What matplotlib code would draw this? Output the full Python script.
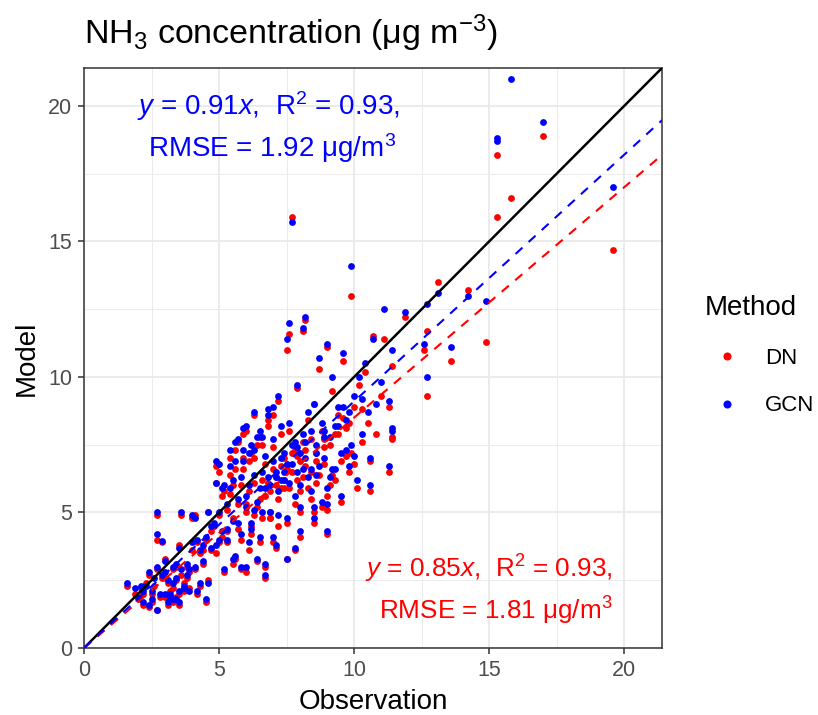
import matplotlib
matplotlib.use("Agg")
import matplotlib.pyplot as plt
import numpy as np
from matplotlib.lines import Line2D

# ---------------- data ----------------
obs = [1.6, 1.9, 2.0, 2.2, 2.3, 2.4, 2.5, 2.6, 2.7, 2.7, 2.7, 2.7, 2.9, 3.0, 3.0, 3.1,
       3.2, 3.2, 3.3, 3.3, 3.4, 3.4, 3.5, 3.5, 3.6, 3.7, 3.8, 3.9, 4.0, 4.0, 4.1, 4.2,
       4.3, 4.4, 4.5, 4.5, 4.6, 4.7, 4.8, 4.9, 5.0, 5.0, 4.6, 4.9, 4.9, 2.9, 3.6, 4.1,
       5.0, 5.1, 5.2, 5.3, 5.4, 5.5, 5.5, 5.6, 5.7, 5.7, 5.8, 5.8, 5.9, 6.0, 6.0, 6.1,
       6.2, 6.2, 6.3, 6.3, 6.4, 6.5, 6.5, 6.6, 6.7, 6.7, 6.8, 6.9, 7.0, 7.0, 7.1, 7.2,
       7.2, 7.3, 7.4, 7.5, 7.5, 7.6, 7.6, 7.7, 7.7, 7.8, 7.9, 8.0, 8.0, 8.1, 8.1, 8.2,
       8.3, 8.3, 8.4, 8.5, 8.5, 8.6, 8.7, 8.8, 8.8, 8.9, 9.0, 9.0, 9.1, 9.2, 9.3, 9.4,
       9.5, 9.6, 9.7, 9.8, 9.9, 10.0, 10.1, 10.2, 10.3, 10.4, 10.5, 10.6, 10.6, 10.7, 10.8, 11.0,
       11.1, 11.3, 11.3, 11.4, 11.4, 11.4, 11.9, 12.6, 12.7, 12.7, 13.1, 13.6, 14.2, 14.9, 15.3, 15.8,
       17.0, 19.6, 15.3, 5.3, 5.6, 5.9, 6.1, 6.4, 6.6, 6.8, 7.1, 7.3, 7.5, 7.8, 8.0, 8.2,
       8.4, 8.6, 8.9, 9.1, 9.4, 9.6, 9.9, 10.0, 6.0, 6.3, 6.7, 7.0, 7.4, 7.7, 5.4, 5.8,
       6.2, 6.9, 7.2, 7.9, 8.5, 9.0, 9.3, 9.8, 10.3, 3.1, 3.4, 2.4, 2.1, 3.8, 4.3, 4.7,
       5.1, 5.5, 6.5, 6.0, 7.5, 8.7,
       2.2, 2.5, 2.8, 3.0, 3.3, 3.5, 3.7, 3.9, 4.2, 4.4, 5.2, 5.4, 5.6, 5.9, 6.1, 6.4,
       6.6, 6.8, 7.0, 7.3, 7.6, 7.9, 8.1, 8.4, 8.6, 8.9, 9.2, 9.5, 9.7, 6.3, 6.9, 7.4,
       5.7, 8.2, 8.0, 6.7, 7.1, 7.8, 9.0, 5.3]
model_dn = [2.3, 2.0, 1.8, 1.6, 2.4, 1.5, 2.0, 2.3, 1.4, 2.9, 4.0, 4.9, 2.6, 1.9, 3.3, 1.6,
            2.1, 1.8, 2.2, 1.7, 2.5, 1.9, 3.8, 2.0, 2.7, 2.4, 3.0, 2.2, 4.8, 3.6, 2.9, 3.9,
            2.3, 3.1, 4.0, 1.7, 2.5, 3.6, 4.5, 3.5, 4.9, 3.9, 5.0, 6.1, 6.7, 3.9, 4.9, 4.9,
            6.5, 5.6, 2.8, 4.3, 7.0, 4.8, 6.0, 3.3, 7.6, 5.3, 4.0, 2.9, 6.6, 8.0, 5.0, 3.6,
            7.2, 4.5, 6.1, 8.6, 3.2, 5.5, 7.8, 4.8, 2.6, 6.8, 8.2, 5.8, 3.9, 7.4, 6.3, 4.5,
            9.1, 5.9, 7.0, 11.0, 3.3, 11.6, 8.0, 15.9, 6.5, 5.3, 9.6, 6.9, 4.1, 7.6, 11.7, 12.1,
            5.9, 8.4, 6.5, 9.0, 4.6, 7.2, 10.3, 5.2, 8.0, 6.8, 11.1, 4.2, 7.5, 9.5, 6.2, 8.6,
            5.4, 10.6, 7.1, 6.5, 13.0, 8.9, 5.9, 9.7, 7.6, 10.2, 8.3, 6.9, 5.8, 11.5, 7.9, 9.3,
            11.4, 6.5, 8.9, 10.4, 7.8, 7.7, 12.2, 11.0, 11.7, 9.3, 13.5, 10.6, 13.2, 11.3, 15.9, 16.6,
            18.9, 14.7, 18.2, 5.1, 6.6, 7.0, 5.8, 7.5, 6.2, 8.4, 6.0, 7.9, 6.6, 7.3, 5.8, 6.7,
            7.7, 6.1, 7.4, 6.0, 7.9, 8.5, 7.2, 6.8, 5.3, 4.9, 5.6, 6.6, 5.9, 7.2, 5.7, 6.0,
            4.2, 4.8, 5.5, 6.2, 5.0, 5.6, 7.9, 8.3, 8.8, 2.4, 3.0, 2.7, 2.2, 2.6, 3.5, 4.3,
            4.1, 3.1, 3.9, 2.8, 4.6, 6.4,
            2.0, 1.7, 1.9, 2.6, 2.9, 1.6, 2.1, 2.8, 2.0, 3.6, 5.8, 6.4, 7.3, 7.9, 6.9, 5.2,
            7.5, 6.1, 8.6, 6.7, 5.9, 7.1, 6.3, 5.5, 6.9, 7.7, 6.4, 6.9, 8.1, 7.0, 4.8, 6.2,
            4.4, 7.3, 5.0, 3.0, 3.7, 3.6, 5.1, 3.9]
model_gcn = [2.4, 2.2, 1.9, 1.7, 2.3, 1.6, 2.1, 2.6, 1.4, 3.0, 4.2, 5.0, 2.7, 2.0, 3.2, 1.7,
             2.0, 1.9, 2.4, 1.8, 2.6, 1.8, 3.7, 2.1, 2.9, 2.3, 3.1, 2.1, 4.9, 3.9, 3.0, 4.0,
             2.4, 3.2, 4.1, 1.8, 2.4, 3.7, 4.6, 3.8, 5.0, 4.0, 5.0, 6.1, 6.9, 3.95, 5.0, 4.8,
             6.8, 5.9, 2.9, 4.4, 7.3, 4.7, 6.2, 3.4, 7.7, 5.5, 4.2, 3.0, 6.9, 8.2, 5.2, 3.9,
             7.5, 4.6, 6.4, 8.7, 3.3, 5.9, 8.0, 5.0, 2.7, 7.1, 8.6, 6.0, 4.1, 7.7, 6.5, 4.9,
             9.3, 6.2, 7.2, 11.4, 3.3, 12.0, 8.3, 15.7, 6.8, 5.6, 9.7, 7.2, 4.3, 7.9, 11.8, 12.2,
             6.3, 8.7, 6.6, 9.0, 4.8, 7.5, 10.7, 5.4, 8.3, 7.0, 11.2, 4.3, 7.8, 10.0, 6.6, 8.9,
             5.6, 10.9, 7.3, 6.7, 14.1, 9.3, 6.2, 10.0, 7.9, 10.5, 8.7, 7.0, 6.0, 11.4, 9.0, 9.8,
             12.5, 6.7, 9.1, 11.0, 8.1, 8.0, 12.4, 11.2, 12.7, 10.0, 13.1, 11.1, 13.0, 12.8, 18.8, 21.0,
             19.4, 17.0, 18.7, 5.3, 6.9, 7.3, 6.0, 7.8, 6.5, 8.8, 6.3, 8.2, 6.8, 7.6, 6.0, 7.0,
             8.0, 6.4, 7.8, 6.3, 8.2, 8.9, 7.5, 7.1, 5.6, 5.1, 5.9, 6.9, 6.2, 7.5, 5.9, 6.3,
             4.4, 5.0, 5.8, 6.5, 5.2, 5.9, 8.2, 8.7, 9.2, 2.5, 3.1, 2.8, 2.3, 2.7, 3.6, 4.5,
             4.3, 3.3, 4.1, 3.0, 4.8, 6.7,
             2.1, 1.8, 2.0, 2.8, 3.0, 1.7, 2.2, 2.9, 2.1, 3.8, 6.0, 6.7, 7.6, 8.1, 7.2, 5.4,
             7.8, 6.3, 8.9, 7.0, 6.1, 7.4, 6.6, 5.8, 7.2, 8.0, 6.6, 7.2, 8.4, 7.3, 5.0, 6.5,
             4.6, 7.6, 5.2, 3.1, 3.8, 3.7, 5.3, 4.0]

methods = ["DN", "GCN"]
colors = {"DN": "#FF0000", "GCN": "#0000FF"}
slopes = {"DN": 0.85, "GCN": 0.91}
r2 = {"DN": 0.93, "GCN": 0.93}
rmse = {"DN": 1.81, "GCN": 1.92}

x_ticks = [0, 5, 10, 15, 20]
y_ticks = [0, 5, 10, 15, 20]
lim = 21.4

# ---------------- style ----------------
plt.rcParams["font.family"] = ["Liberation Sans", "DejaVu Sans"]
plt.rcParams["mathtext.fontset"] = "custom"
plt.rcParams["mathtext.rm"] = "Liberation Sans"
plt.rcParams["mathtext.it"] = "Liberation Sans:italic"
plt.rcParams["mathtext.default"] = "rm"

fig = plt.figure(figsize=(8.18, 7.15), dpi=100)
ax = fig.add_axes([84 / 818, 67 / 715, (662 - 84) / 818, (648 - 68) / 715])

ax.set_xlim(0, lim)
ax.set_ylim(0, lim)
ax.set_xticks(x_ticks)
ax.set_yticks(y_ticks)
ax.set_xticks(np.arange(2.5, lim, 5), minor=True)
ax.set_yticks(np.arange(2.5, lim, 5), minor=True)
ax.grid(which="major", color="#EBEBEB", lw=1.4)
ax.grid(which="minor", color="#EBEBEB", lw=0.7)
ax.set_axisbelow(True)
ax.tick_params(which="minor", length=0)
ax.tick_params(which="major", length=4.3, width=1.1, color="#333333",
               labelsize=15.5, labelcolor="#4D4D4D", pad=4)
for s in ax.spines.values():
    s.set_color("#333333")
    s.set_linewidth(1.1)

# points
data = {"DN": model_dn, "GCN": model_gcn}
for m in methods:
    ax.scatter(obs, data[m], s=24, color=colors[m], linewidths=0, zorder=3)

# 1:1 line and fit lines
xx = np.array([0, lim])
ax.plot(xx, xx, color="black", lw=1.8, zorder=4)
for m in methods:
    ax.plot(xx, slopes[m] * xx, color=colors[m], lw=1.5, ls=(0, (4.5, 4)), zorder=4)

ax.set_xlabel("Observation", fontsize=20, labelpad=6)
ax.set_ylabel("Model", fontsize=20, labelpad=6)

fig.text(84 / 818, 1 - 33 / 715, r"NH$_3$ concentration ($\mu$g m$^{-3}$)",
         fontsize=24.5, ha="left", va="center")

# annotations
fs_gcn = 20
fs_dn = 18.8
ax.text(1.96, 20.0, r"$\it{y}$ = %.2f$\it{x}$,  R$^2$ = %.2f," % (slopes["GCN"], r2["GCN"]),
        color=colors["GCN"], fontsize=fs_gcn, ha="left", va="center")
ax.text(2.37, 18.45, r"RMSE = %.2f $\mu$g/m$^3$" % rmse["GCN"],
        color=colors["GCN"], fontsize=fs_gcn, ha="left", va="center")
ax.text(10.42, 2.93, r"$\it{y}$ = %.2f$\it{x}$,  R$^2$ = %.2f," % (slopes["DN"], r2["DN"]),
        color=colors["DN"], fontsize=fs_dn, ha="left", va="center")
ax.text(10.94, 1.37, r"RMSE = %.2f $\mu$g/m$^3$" % rmse["DN"],
        color=colors["DN"], fontsize=fs_dn, ha="left", va="center")

# legend
handles = [Line2D([], [], marker="o", ls="", color=colors[m], markersize=4.8) for m in methods]
leg = fig.legend(handles, methods, title="Method", loc="upper left",
                 bbox_to_anchor=(705 / 818, 1 - 295 / 715), frameon=False,
                 fontsize=16, title_fontsize=20, handlelength=2.0, handletextpad=0.7,
                 labelspacing=1.2, borderaxespad=0, borderpad=0)
leg._legend_box.align = "left"

fig.savefig("out.png", dpi=100)
